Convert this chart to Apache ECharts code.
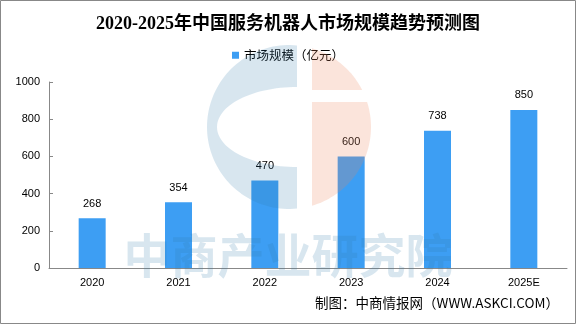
<!DOCTYPE html>
<html><head><meta charset="utf-8">
<script src="https://cdn.jsdelivr.net/npm/echarts@6/dist/echarts.min.js"></script>
<style>html,body{margin:0;padding:0;background:#fff}#c{width:576px;height:324px}</style>
</head><body><div id="c"></div>
<script>
var titleText = '2020-2025年中国服务机器人市场规模趋势预测图';
var seriesName = '市场规模（亿元）';
var categories = ['2020', '2021', '2022', '2023', '2024', '2025E'];
var values = [268, 354, 470, 600, 738, 850];
var yTicks = [0, 200, 400, 600, 800, 1000];
var sourceText = '制图：中商情报网（WWW.ASKCI.COM）';
var watermarkText = '中商产业研究院';

// watermark logo geometry helpers
function arcPts(cx, cy, rx, ry, a0, a1, n) {
  var pts = [];
  for (var i = 0; i <= n; i++) {
    var a = (a0 + (a1 - a0) * i / n) * Math.PI / 180;
    pts.push([cx + rx * Math.cos(a), cy + ry * Math.sin(a)]);
  }
  return pts;
}
var CX = 289, CY = 127, R = 82;
function angAtX(x, sign) { return Math.atan2(sign * Math.sqrt(R * R - (x - CX) * (x - CX)), x - CX) * 180 / Math.PI; }
function angAtY(y) { return Math.asin((y - CY) / R) * 180 / Math.PI; }
var aTop = angAtX(297, -1), aBot = angAtX(297, 1);
var bluePts = arcPts(CX, CY, R, R, aTop + 360, aBot, 80)
  .concat(arcPts(297, 127, 80, 40, 90, 270, 60));
var pA = angAtX(312, -1);
var peachTop = arcPts(CX, CY, R, R, pA, angAtY(90), 30).concat([[312, 90]]);
var peachBot = [[312, 102]].concat(arcPts(CX, CY, R, R, angAtY(102), angAtX(312, 1), 50));

var chart = echarts.init(document.getElementById('c'), null, {renderer: 'canvas'});
var wmBlue = 'rgba(46,124,172,0.19)';
var wmPeach = 'rgba(235,130,90,0.22)';
chart.setOption({
  animation: false,
  backgroundColor: '#fff',
  title: {
    text: titleText, left: 'center', top: 10,
    textStyle: {fontFamily: '"Liberation Serif", "Noto Sans CJK SC"', fontSize: 18, fontWeight: 'bold', color: '#000'}
  },
  legend: {
    data: [seriesName], top: 44, left: 'center', icon: 'rect', itemWidth: 7, itemHeight: 7, itemGap: 4,
    textStyle: {fontFamily: 'Noto Sans CJK SC', fontSize: 12.5, color: '#000'}
  },
  grid: {left: 49, right: 9, top: 82, bottom: 56},
  xAxis: {
    type: 'category', data: categories,
    axisLine: {lineStyle: {color: '#888', width: 1}},
    axisTick: {inside: true, length: 4, lineStyle: {color: '#888'}},
    axisLabel: {color: '#000', fontFamily: 'Liberation Sans', fontSize: 11, margin: 9}
  },
  yAxis: {
    type: 'value', min: yTicks[0], max: yTicks[yTicks.length - 1], interval: 200,
    axisLine: {show: true, lineStyle: {color: '#888'}},
    axisTick: {show: true, inside: true, length: 4, lineStyle: {color: '#888'}},
    splitLine: {show: false},
    axisLabel: {color: '#000', fontFamily: 'Liberation Sans', fontSize: 11, margin: 9, formatter: function (v) { return String(v); }}
  },
  series: [{
    name: seriesName, type: 'bar', data: values, barWidth: 27,
    itemStyle: {color: '#3d9ef3'},
    label: {show: true, position: 'top', distance: 9, color: '#000', fontFamily: 'Liberation Sans', fontSize: 11}
  }],
  graphic: [
    {type: 'polygon', z: 100, silent: true, shape: {points: bluePts}, style: {fill: wmBlue}},
    {type: 'polygon', z: 100, silent: true, shape: {points: peachTop}, style: {fill: wmPeach}},
    {type: 'polygon', z: 100, silent: true, shape: {points: peachBot}, style: {fill: wmPeach}},
    {type: 'text', z: 100, silent: true, x: 288, y: 255, style: {text: watermarkText, fill: wmBlue, font: 'bold 47px "Noto Sans CJK SC"', textAlign: 'center', textVerticalAlign: 'middle'}},
    {type: 'text', z: 101, x: 559, y: 303, style: {text: sourceText, fill: '#000', font: '13.5px "Noto Sans CJK SC"', textAlign: 'right', textVerticalAlign: 'middle'}},
    {type: 'rect', z: 102, silent: true, shape: {x: 0.5, y: 0.5, width: 575, height: 323}, style: {fill: 'none', stroke: '#888', lineWidth: 1}}
  ]
});
</script></body></html>
